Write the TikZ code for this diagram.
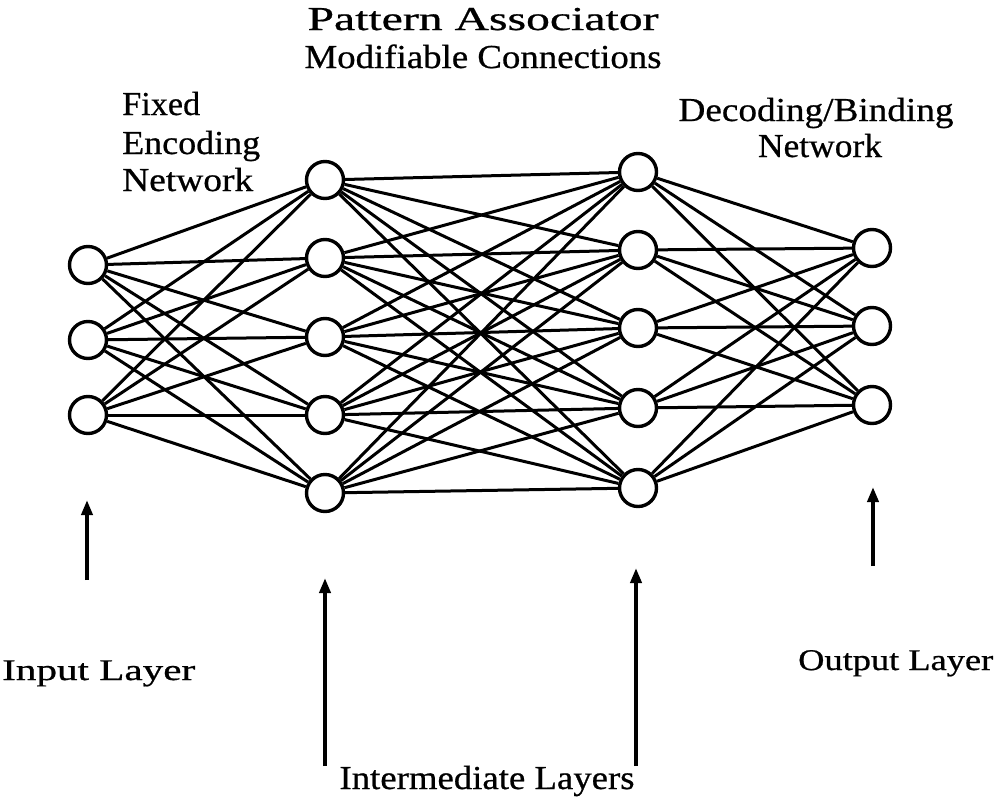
\documentclass[tikz,border=0pt]{standalone}
\usepackage{fontspec}
\setmainfont{Liberation Serif}
\newfontfamily\lblfont{Liberation Serif}[FakeBold=0.6]
\usetikzlibrary{arrows.meta}
% set a label at a given width, keeping its natural height
\newcommand{\fitw}[2]{\resizebox{#1pt}{\height}{#2}}
\begin{document}
\begin{tikzpicture}[x=1pt,y=-1pt,
  unit/.style={circle,draw,fill=white,line width=3.4pt,minimum size=37pt,inner sep=0pt},
  link/.style={line width=3pt},
  uparrow/.style={line width=4pt,-{Triangle[length=15pt,width=11pt]}},
  lbl/.style={inner sep=0pt,font=\lblfont\fontsize{33.5}{40}\selectfont},
  lblsm/.style={inner sep=0pt,font=\lblfont\fontsize{30}{36}\selectfont}]
\useasboundingbox (0,0) rectangle (998,798);

% input layer
\foreach \i/\y in {1/265,2/340,3/415} \node[unit] (i\i) at (88,\y) {};
% first intermediate layer
\foreach \i/\y in {1/180,2/258,3/337,4/415,5/493} \node[unit] (a\i) at (325,\y) {};
% second intermediate layer
\foreach \i/\y in {1/172,2/250,3/328,4/408,5/488} \node[unit] (b\i) at (638,\y) {};
% output layer
\foreach \i/\y in {1/248,2/326,3/405} \node[unit] (o\i) at (872,\y) {};

% full connections between adjacent layers
\foreach \s in {1,2,3} \foreach \t in {1,...,5} \draw[link] (i\s) -- (a\t);
\foreach \s in {1,...,5} \foreach \t in {1,...,5} \draw[link] (a\s) -- (b\t);
\foreach \s in {1,...,5} \foreach \t in {1,2,3} \draw[link] (b\s) -- (o\t);

% arrows pointing up at the layers
\coordinate (ti) at (87,580);
\coordinate (ta) at (325,766);
\coordinate (tb) at (636,766);
\coordinate (to) at (873,566);
\coordinate (hi) at (87,500);
\coordinate (ha) at (325,578);
\coordinate (hb) at (636,568);
\coordinate (ho) at (873,487);
\draw[uparrow] (ti) -- (hi);
\draw[uparrow] (ta) -- (ha);
\draw[uparrow] (tb) -- (hb);
\draw[uparrow] (to) -- (ho);

% labels
\node[lbl,anchor=base] (pa) at (483,30) {\fitw{351}{Pattern Associator}};
\node[lbl,anchor=base] (mc) at (483,68) {\fitw{357}{Modifiable Connections}};
\node[lbl,anchor=base west] (fx) at (122,115) {\fitw{78}{Fixed}};
\node[lbl,anchor=base west] (en) at (122,154) {\fitw{138}{Encoding}};
\node[lbl,anchor=base west] (nw) at (122,191) {\fitw{131}{Network}};
\node[lbl,anchor=base] (db) at (816,121) {\fitw{275}{Decoding/Binding}};
\node[lbl,anchor=base] (nw2) at (820,157) {\fitw{124}{Network}};
\node[lblsm,anchor=base west] (il) at (2,680) {\fitw{193}{Input Layer}};
\node[lblsm,anchor=base west] (ol) at (798,670) {\fitw{195}{Output Layer}};
\node[lbl,anchor=base] (ml) at (487,789) {\fitw{295}{Intermediate Layers}};
\end{tikzpicture}
\end{document}
